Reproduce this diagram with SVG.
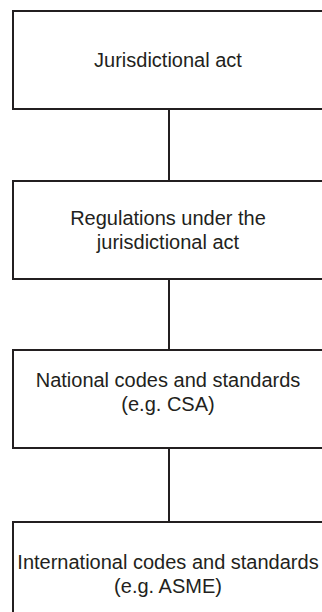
<svg xmlns="http://www.w3.org/2000/svg" width="322" height="612" viewBox="0 0 322 612">
<style>
.box{fill:#ffffff;stroke:#231f20;stroke-width:2}
.conn{stroke:#231f20;stroke-width:2;fill:none}
.lbl{font-family:"Liberation Sans",Arial,sans-serif;font-size:20px;fill:#231f20;text-anchor:middle}
</style>
<rect width="322" height="612" fill="#ffffff"/>
<g id="connectors">
<line class="conn" x1="169" y1="109" x2="169" y2="181"/>
<line class="conn" x1="169" y1="279" x2="169" y2="350"/>
<line class="conn" x1="169" y1="448" x2="169" y2="522"/>
</g>
<g id="node1">
<rect class="box" x="13" y="11" width="312" height="98"/>
<text class="lbl" x="168" y="67">Jurisdictional act</text>
</g>
<g id="node2">
<rect class="box" x="13" y="181" width="312" height="98"/>
<text class="lbl" x="168" y="225">Regulations under the</text>
<text class="lbl" x="168" y="249">jurisdictional act</text>
</g>
<g id="node3">
<rect class="box" x="13" y="350" width="312" height="98"/>
<text class="lbl" x="168" y="387">National codes and standards</text>
<text class="lbl" x="168" y="411">(e.g. CSA)</text>
</g>
<g id="node4">
<rect class="box" x="13" y="522" width="312" height="100"/>
<text class="lbl" x="168" y="569">International codes and standards</text>
<text class="lbl" x="168" y="593">(e.g. ASME)</text>
</g>
</svg>
